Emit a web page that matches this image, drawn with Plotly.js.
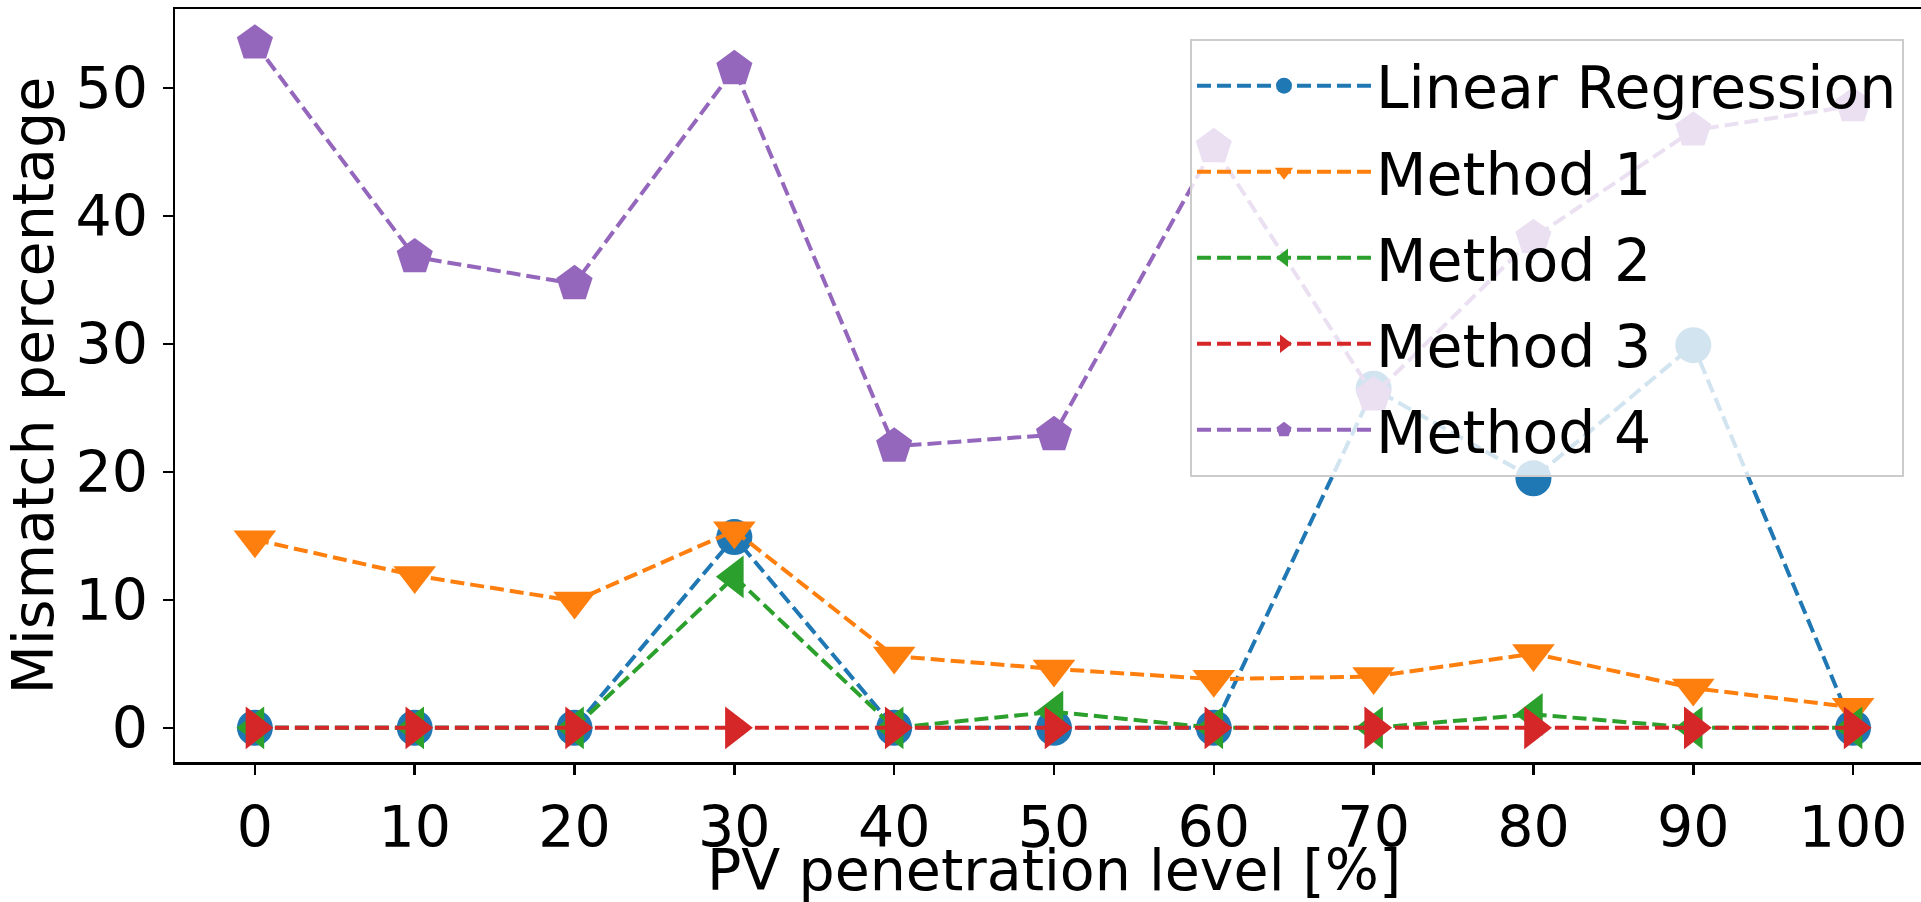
<!DOCTYPE html>
<html>
<head>
<meta charset="utf-8">
<script src="https://cdn.plot.ly/plotly-3.0.1.min.js"></script>
<style>
  html, body { margin: 0; padding: 0; overflow: hidden; background: #ffffff; }
  #chart { width: 1940px; height: 902px; }
</style>
</head>
<body>
<div id="chart"></div>
<script>
// PV penetration levels (x)
const penetration = [0, 10, 20, 30, 40, 50, 60, 70, 80, 90, 100];
const xTickLabels = ["0", "10", "20", "30", "40", "50", "60", "70", "80", "90", "100"];

// Mismatch percentage per method
const linearRegression = [0, 0, 0, 14.9, 0, 0, 0, 26.5, 19.5, 29.9, 0];
const method1 = [14.7, 11.9, 9.9, 15.4, 5.6, 4.6, 3.8, 4.0, 5.8, 3.1, 1.6];
const method2 = [0, 0, 0, 11.8, 0, 1.25, 0, 0, 1.05, 0, 0];
const method3 = [0, 0, 0, 0, 0, 0, 0, 0, 0, 0, 0];
const method4 = [53.5, 36.8, 34.7, 51.5, 22.0, 22.9, 45.4, 26.0, 38.3, 46.7, 48.6];

const seriesNames = ["Linear Regression", "Method 1", "Method 2", "Method 3", "Method 4"];
const seriesValues = [linearRegression, method1, method2, method3, method4];
const seriesColors = ["#1f77b4", "#ff7f0e", "#2ca02c", "#d62728", "#9467bd"];
const seriesSymbols = ["circle", "triangle-down", "triangle-left", "triangle-right", "pentagon"];
const seriesSizes = [36, 37, 37, 37, 38];

const xTitle = "PV penetration level [%]";
const yTitle = "Mismatch percentage";

const FONT = "DejaVu Sans, Liberation Sans, sans-serif";

const traces = seriesNames.map((name, i) => ({
  type: "scatter",
  mode: "lines+markers",
  name: name,
  legendgroup: "g" + i,
  x: penetration,
  y: seriesValues[i],
  line: { color: seriesColors[i], width: 4, dash: "14px,6px" },
  marker: { color: seriesColors[i], symbol: seriesSymbols[i], size: seriesSizes[i], line: { width: 0 } },
  hoverinfo: "x+y+name"
}));

const axisCommon = {
  showline: true,
  linecolor: "#000000",
  linewidth: 2.5,
  mirror: true,
  ticks: "outside",
  ticklen: 10,
  tickwidth: 2.5,
  tickcolor: "#000000",
  showgrid: false,
  zeroline: false,
  tickfont: { family: FONT, size: 57, color: "#000000" }
};

const layout = {
  width: 1940,
  height: 902,
  margin: { l: 175, r: 7, t: 9, b: 140 },
  paper_bgcolor: "#ffffff",
  plot_bgcolor: "#ffffff",
  font: { family: FONT, size: 57, color: "#000000" },
  showlegend: true,
  legend: {
    x: 0.9835,
    y: 0.960,
    xanchor: "right",
    yanchor: "top",
    bgcolor: "rgba(255,255,255,0.8)",
    bordercolor: "#cccccc",
    borderwidth: 2,
    font: { family: FONT, size: 58.5, color: "#000000" },
    tracegroupgap: 7,
    itemwidth: 174
  },
  xaxis: Object.assign({}, axisCommon, {
    range: [-5, 105],
    tickmode: "array",
    tickvals: penetration,
    ticktext: xTickLabels,
    ticklabelstandoff: 4
  }),
  yaxis: Object.assign({}, axisCommon, {
    range: [-2.675, 56.175],
    tickmode: "linear",
    tick0: 0,
    dtick: 10,
    ticklabelstandoff: 3,
    title: { text: yTitle, font: { family: FONT, size: 57, color: "#000000" } }
  }),
  annotations: [{
    text: xTitle,
    xref: "paper",
    yref: "paper",
    x: 0.5,
    y: -0.144,
    xanchor: "center",
    yanchor: "middle",
    showarrow: false,
    font: { family: FONT, size: 57, color: "#000000" }
  }]
};

Plotly.newPlot("chart", traces, layout, { displayModeBar: false, staticPlot: true });
</script>
</body>
</html>
